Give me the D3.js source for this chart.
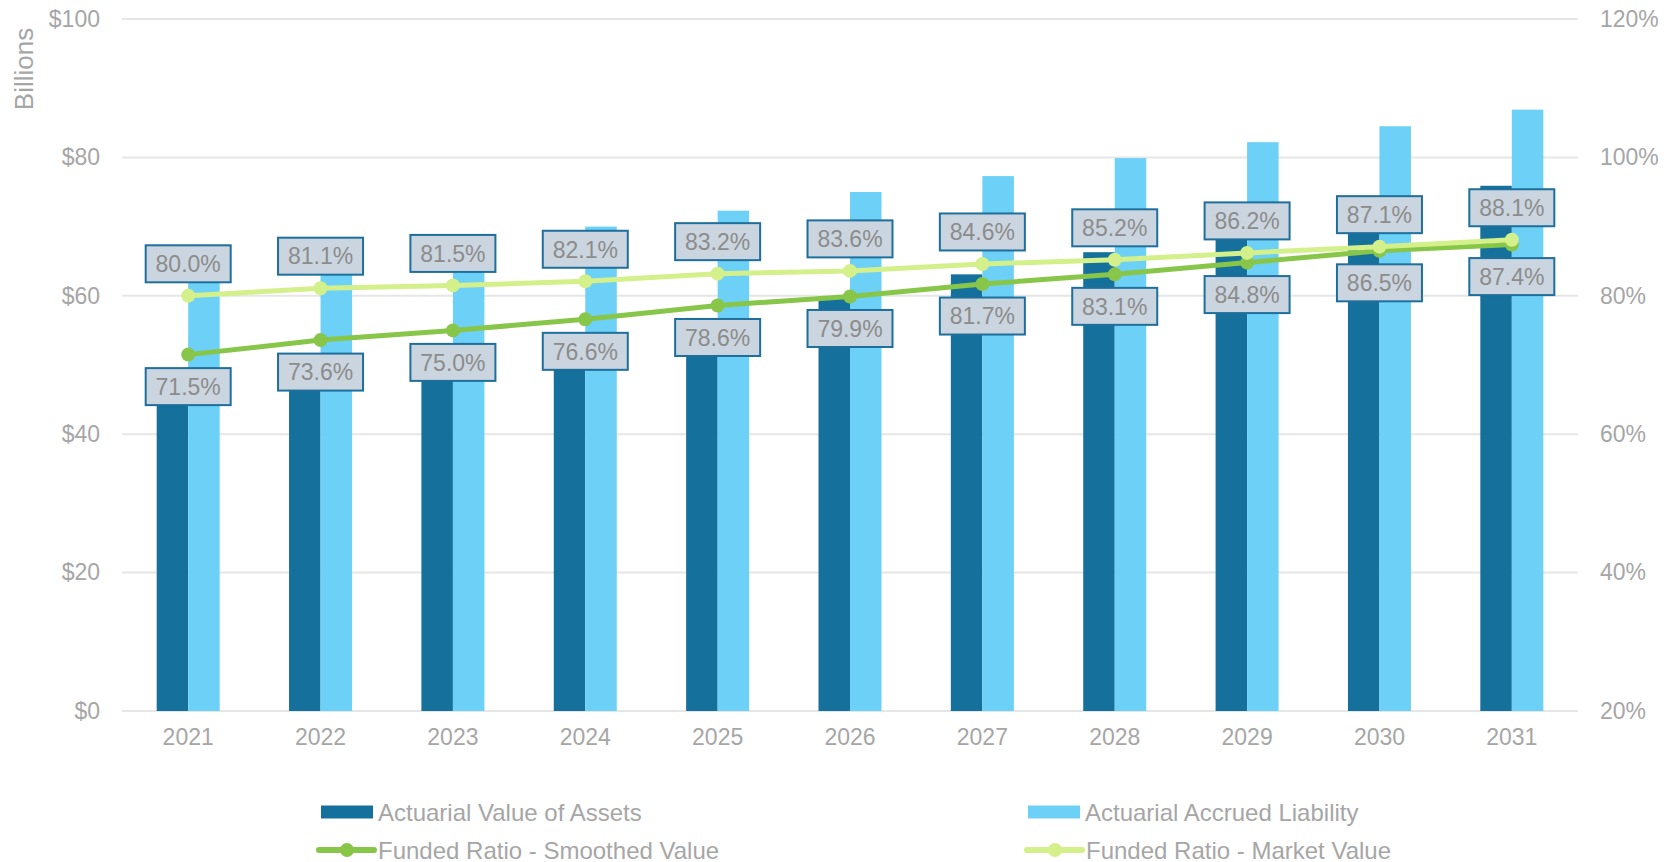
<!DOCTYPE html>
<html>
<head>
<meta charset="utf-8">
<script src="https://cdn.jsdelivr.net/npm/d3@7"></script>
<style>
  body { margin: 0; background: #fff; }
  svg { display: block; font-family: "Liberation Sans", Arial, sans-serif; }
</style>
</head>
<body>
<div id="chart"></div>
<script>
// Data
const years        = ["2021","2022","2023","2024","2025","2026","2027","2028","2029","2030","2031"];
const assets       = [45.3, 48.2, 50.8, 53.6, 56.8, 59.9, 63.1, 66.3, 69.7, 73.1, 75.9];
const liability    = [63.3, 65.5, 67.7, 70.0, 72.3, 75.0, 77.3, 79.9, 82.2, 84.5, 86.9];
const smoothed     = [71.5, 73.6, 75.0, 76.6, 78.6, 79.9, 81.7, 83.1, 84.8, 86.5, 87.4];
const market       = [80.0, 81.1, 81.5, 82.1, 83.2, 83.6, 84.6, 85.2, 86.2, 87.1, 88.1];
const leftTicks    = [0, 20, 40, 60, 80, 100];
const rightTicks   = [20, 40, 60, 80, 100, 120];

// Layout
const config = {
  width      : 1677,
  height     : 862,
  left       : 122,
  right      : 1578,
  top        : 19,
  bottom     : 711,
  darkBar    : "#16709c",
  lightBar   : "#6dd0f7",
  smoothCol  : "#88c64a",
  marketCol  : "#d4f08a",
  gridColor  : "#e6e6e6",
  axisText   : "#a6a6a6",
  labelText  : "#8c8c8c",
  labelFill  : "#cbd5df",
  labelStroke: "#1e6f9b",
  fontSize   : 23,
  legendSize : 24,
  labelSize  : 23,
};

const svg = d3.select("#chart")
  .append("svg")
    .attr("width", config.width)
    .attr("height", config.height);

// Scales
const x = d3.scaleBand()
  .domain(years)
  .range([config.left, config.right])
  .paddingInner(0.524)
  .paddingOuter(0.262);

const x1 = d3.scaleBand()
  .domain(["assets", "liability"])
  .range([0, x.bandwidth()]);

const yLeft = d3.scaleLinear().domain([0, 100]).range([config.bottom, config.top]);
const yRight = d3.scaleLinear().domain([20, 120]).range([config.bottom, config.top]);

// Gridlines
svg.append("g")
  .selectAll("line")
  .data(leftTicks)
  .enter()
    .append("line")
    .attr("x1", config.left)
    .attr("x2", config.right)
    .attr("y1", d => yLeft(d))
    .attr("y2", d => yLeft(d))
    .style("stroke", config.gridColor)
    .style("stroke-width", "2px");

// Left axis
const leftAxis = svg.append("g")
  .attr("transform", "translate(" + (config.left - 22) + ",0)")
  .call(d3.axisLeft(yLeft).tickValues(leftTicks).tickSize(0).tickPadding(0).tickFormat(d => "$" + d));
leftAxis.select(".domain").remove();
leftAxis.selectAll("text")
  .style("font-size", config.fontSize + "px")
  .style("font-family", "inherit")
  .attr("fill", config.axisText);

// Right axis
const rightAxis = svg.append("g")
  .attr("transform", "translate(" + (config.right + 22) + ",0)")
  .call(d3.axisRight(yRight).tickValues(rightTicks).tickSize(0).tickPadding(0).tickFormat(d => d + "%"));
rightAxis.select(".domain").remove();
rightAxis.selectAll("text")
  .style("font-size", config.fontSize + "px")
  .style("font-family", "inherit")
  .attr("fill", config.axisText);

// Bottom axis
const bottomAxis = svg.append("g")
  .attr("transform", "translate(0," + (config.bottom + 18) + ")")
  .call(d3.axisBottom(x).tickSize(0).tickPadding(0));
bottomAxis.select(".domain").remove();
bottomAxis.selectAll("text")
  .attr("dy", "0.71em")
  .style("font-size", config.fontSize + "px")
  .style("font-family", "inherit")
  .attr("fill", config.axisText);

// Y axis title
svg.append("text")
  .attr("transform", "translate(33,69) rotate(-90)")
  .attr("text-anchor", "middle")
  .style("font-size", "26px")
  .attr("fill", config.axisText)
  .text("Billions");

// Bars
const barData = years.map((yr, i) => ({ year: yr, assets: assets[i], liability: liability[i] }));
const groups = svg.append("g")
  .selectAll("g")
  .data(barData)
  .enter()
    .append("g")
    .attr("transform", d => "translate(" + x(d.year) + ",0)");

groups.append("rect")
  .attr("x", x1("assets"))
  .attr("width", x1.bandwidth())
  .attr("y", d => yLeft(d.assets))
  .attr("height", d => yLeft(0) - yLeft(d.assets))
  .attr("fill", config.darkBar);

groups.append("rect")
  .attr("x", x1("liability"))
  .attr("width", x1.bandwidth())
  .attr("y", d => yLeft(d.liability))
  .attr("height", d => yLeft(0) - yLeft(d.liability))
  .attr("fill", config.lightBar);

// Lines
const cx = yr => x(yr) + x.bandwidth() / 2;
const line = d3.line()
  .x(d => cx(d.year))
  .y(d => yRight(d.value));

function drawSeries(values, color) {
  const pts = years.map((yr, i) => ({ year: yr, value: values[i] }));
  svg.append("path")
    .datum(pts)
    .attr("d", line)
    .attr("fill", "none")
    .style("stroke", color)
    .style("stroke-width", "5px")
    .style("stroke-linecap", "round");
  svg.append("g")
    .selectAll("circle")
    .data(pts)
    .enter()
      .append("circle")
      .attr("cx", d => cx(d.year))
      .attr("cy", d => yRight(d.value))
      .attr("r", 7)
      .attr("fill", color);
  return pts;
}

const smoothPts = drawSeries(smoothed, config.smoothCol);
const marketPts = drawSeries(market, config.marketCol);

// Data labels
function drawLabels(pts, offset) {
  const g = svg.append("g")
    .selectAll("g")
    .data(pts)
    .enter()
      .append("g")
      .attr("transform", d => "translate(" + cx(d.year) + "," + (yRight(d.value) + offset) + ")");
  g.append("rect")
    .attr("x", -42.5)
    .attr("y", -18.5)
    .attr("width", 85)
    .attr("height", 37)
    .attr("fill", config.labelFill)
    .style("stroke", config.labelStroke)
    .style("stroke-width", "2px");
  g.append("text")
    .attr("text-anchor", "middle")
    .attr("dy", "0.36em")
    .style("font-size", config.labelSize + "px")
    .attr("fill", config.labelText)
    .text(d => d.value.toFixed(1) + "%");
}

drawLabels(marketPts, -32);
drawLabels(smoothPts, 32);

// Legend
const legend = svg.append("g").style("font-size", config.legendSize + "px");

function legendRect(xPos, yPos, color, label) {
  legend.append("rect")
    .attr("x", xPos).attr("y", yPos - 6.5)
    .attr("width", 52).attr("height", 13)
    .attr("fill", color);
  legend.append("text")
    .attr("x", xPos + 57).attr("y", yPos)
    .attr("dy", "0.36em")
    .attr("fill", config.axisText)
    .text(label);
}

function legendLine(xPos, yPos, color, label) {
  legend.append("line")
    .attr("x1", xPos).attr("x2", xPos + 55)
    .attr("y1", yPos).attr("y2", yPos)
    .style("stroke", color)
    .style("stroke-width", "6px")
    .style("stroke-linecap", "round");
  legend.append("circle")
    .attr("cx", xPos + 28).attr("cy", yPos).attr("r", 7)
    .attr("fill", color);
  legend.append("text")
    .attr("x", xPos + 59).attr("y", yPos)
    .attr("dy", "0.36em")
    .attr("fill", config.axisText)
    .text(label);
}

legendRect(321, 812, config.darkBar, "Actuarial Value of Assets");
legendRect(1028, 812, config.lightBar, "Actuarial Accrued Liability");
legendLine(319, 850, config.smoothCol, "Funded Ratio - Smoothed Value");
legendLine(1027, 850, config.marketCol, "Funded Ratio - Market Value");
</script>
</body>
</html>
